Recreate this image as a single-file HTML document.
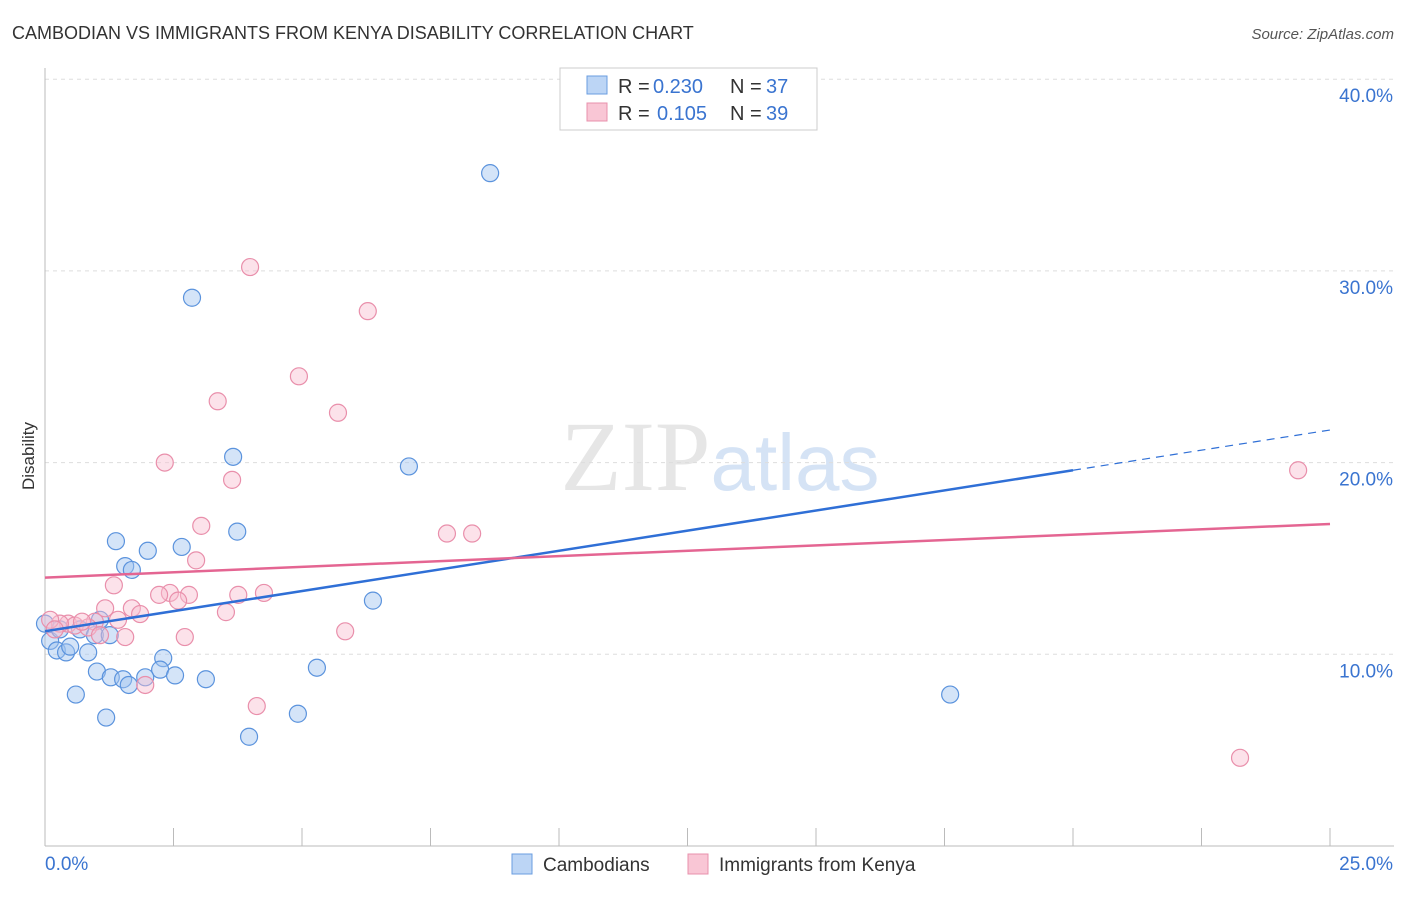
<!DOCTYPE html>
<html><head><meta charset="utf-8"><style>
body{margin:0;background:#fff;font-family:"Liberation Sans",sans-serif}
</style></head><body>
<svg id="c" width="1406" height="892" xmlns="http://www.w3.org/2000/svg">
<text x="12" y="39" font-size="18" fill="#333">CAMBODIAN VS IMMIGRANTS FROM KENYA DISABILITY CORRELATION CHART</text>
<text x="1394" y="39" font-size="15" fill="#555" text-anchor="end" font-style="italic">Source: ZipAtlas.com</text>
<text x="34" y="456" font-size="17" fill="#333" text-anchor="middle" transform="rotate(-90 34 456)">Disability</text>
<text x="720" y="490" font-size="100" fill="#e6e6e6" text-anchor="middle" font-family="Liberation Serif">ZIP<tspan fill="#d5e3f5" font-family="Liberation Sans" font-size="80">atlas</tspan></text>
<g id="grid"></g><g id="pts"></g><g id="lines"></g>
<g>
<rect x="560" y="68" width="257" height="62" fill="#fff" stroke="#ccc"/>
<rect x="587" y="76" width="20" height="18" fill="#bcd5f5" stroke="#6a9de0"/>
<rect x="587" y="103" width="20" height="18" fill="#f9c6d5" stroke="#e890ac"/>
<text x="618" y="93" font-size="20" fill="#333">R =</text>
<text x="653" y="93" font-size="20" fill="#3a74d0">0.230</text>
<text x="730" y="93" font-size="20" fill="#333">N =</text>
<text x="766" y="93" font-size="20" fill="#3a74d0">37</text>
<text x="618" y="120" font-size="20" fill="#333">R =</text>
<text x="657" y="120" font-size="20" fill="#3a74d0">0.105</text>
<text x="730" y="120" font-size="20" fill="#333">N =</text>
<text x="766" y="120" font-size="20" fill="#3a74d0">39</text>
</g>
<g>
<rect x="512" y="854" width="20" height="20" fill="#bcd5f5" stroke="#6a9de0"/>
<text x="543" y="871" font-size="19" fill="#333">Cambodians</text>
<rect x="688" y="854" width="20" height="20" fill="#f9c6d5" stroke="#e890ac"/>
<text x="719" y="871" font-size="19" fill="#333">Immigrants from Kenya</text>
</g>
</svg>
<script>
const yTicks=[10,20,30,40];
const yTickLabels=["10.0%","20.0%","30.0%","40.0%"];
const xTickLabels=["0.0%","25.0%"];
const blueX=[2.86,8.66,3.66,7.08,3.74,1.38,2.0,2.66,1.56,1.69,6.38,1.07,0.68,0.97,1.26,0.1,0.23,0.41,0.84,0.49,2.3,1.01,2.24,1.28,1.52,1.95,2.53,3.13,1.63,5.29,0.6,1.19,4.92,3.97,17.61,0.0,0.29];
const blueY=[28.6,35.1,20.3,19.8,16.4,15.9,15.4,15.6,14.6,14.4,12.8,11.8,11.3,11.0,11.0,10.7,10.2,10.1,10.1,10.4,9.8,9.1,9.2,8.8,8.7,8.8,8.9,8.7,8.4,9.3,7.9,6.7,6.9,5.7,7.9,11.6,11.3];
const pinkX=[3.99,6.28,4.94,3.36,5.7,2.33,3.64,3.04,7.82,8.31,2.94,1.34,2.43,2.22,2.8,3.76,4.26,2.59,1.17,1.69,1.85,3.52,1.42,0.97,0.45,0.58,0.84,0.29,1.07,1.56,2.72,5.84,1.95,4.12,24.38,23.25,0.1,0.19,0.72];
const pinkY=[30.2,27.9,24.5,23.2,22.6,20.0,19.1,16.7,16.3,16.3,14.9,13.6,13.2,13.1,13.1,13.1,13.2,12.8,12.4,12.4,12.1,12.2,11.8,11.7,11.6,11.5,11.4,11.6,11.0,10.9,10.9,11.2,8.4,7.3,19.6,4.6,11.8,11.3,11.7];
const blueTrend=[0,11.2,20,19.6,25,21.7];
const pinkTrend=[0,14.0,25,16.8];
const X=v=>45+v/25*1285, Y=v=>846-v*19.17;
const NS="http://www.w3.org/2000/svg";
function mk(p,t,a){const e=document.createElementNS(NS,t);for(const k in a)e.setAttribute(k,a[k]);document.getElementById(p).appendChild(e);return e;}
yTicks.forEach((t,i)=>{
 const g=mk('grid','line',{x1:45,x2:1394,y1:Y(t),y2:Y(t),stroke:'#ddd','stroke-dasharray':'4 4'});
 
 
 const l=mk('grid','text',{x:1393,y:Y(t)+23,'font-size':19,fill:'#3a74d0','text-anchor':'end'});l.textContent=yTickLabels[i];
 
 
});
mk('grid','line',{x1:45,x2:45,y1:68,y2:846,stroke:'#bbb'});
mk('grid','line',{x1:45,x2:1394,y1:846,y2:846,stroke:'#bbb'});
for(let i=1;i<=10;i++){mk('grid','line',{x1:X(i*2.5),x2:X(i*2.5),y1:828,y2:846,stroke:'#bbb'});}
[[0,45,'start'],[1,1393,'end']].forEach(([i,x,a])=>{const t=mk('grid','text',{x:x,y:870,'font-size':19,fill:'#3a74d0','text-anchor':a});t.textContent=xTickLabels[i];
 
 });
blueX.forEach((v,i)=>{const c=mk('pts','circle',{cx:X(v),cy:Y(blueY[i]),r:8.5,fill:'rgba(160,196,240,0.45)',stroke:'#5b93dd','stroke-width':1.2});
 
 });
pinkX.forEach((v,i)=>{const c=mk('pts','circle',{cx:X(v),cy:Y(pinkY[i]),r:8.5,fill:'rgba(248,190,208,0.45)',stroke:'#e98fab','stroke-width':1.2});
 
 });
let l=mk('lines','line',{x1:X(blueTrend[0]),y1:Y(blueTrend[1]),x2:X(blueTrend[2]),y2:Y(blueTrend[3]),stroke:'#2f6fd6','stroke-width':2.5});


l=mk('lines','line',{x1:X(blueTrend[2]),y1:Y(blueTrend[3]),x2:X(blueTrend[4]),y2:Y(blueTrend[5]),stroke:'#2f6fd6','stroke-width':1.2,'stroke-dasharray':'8 6'});


l=mk('lines','line',{x1:X(pinkTrend[0]),y1:Y(pinkTrend[1]),x2:X(pinkTrend[2]),y2:Y(pinkTrend[3]),stroke:'#e46592','stroke-width':2.5});


</script>
</body></html>
